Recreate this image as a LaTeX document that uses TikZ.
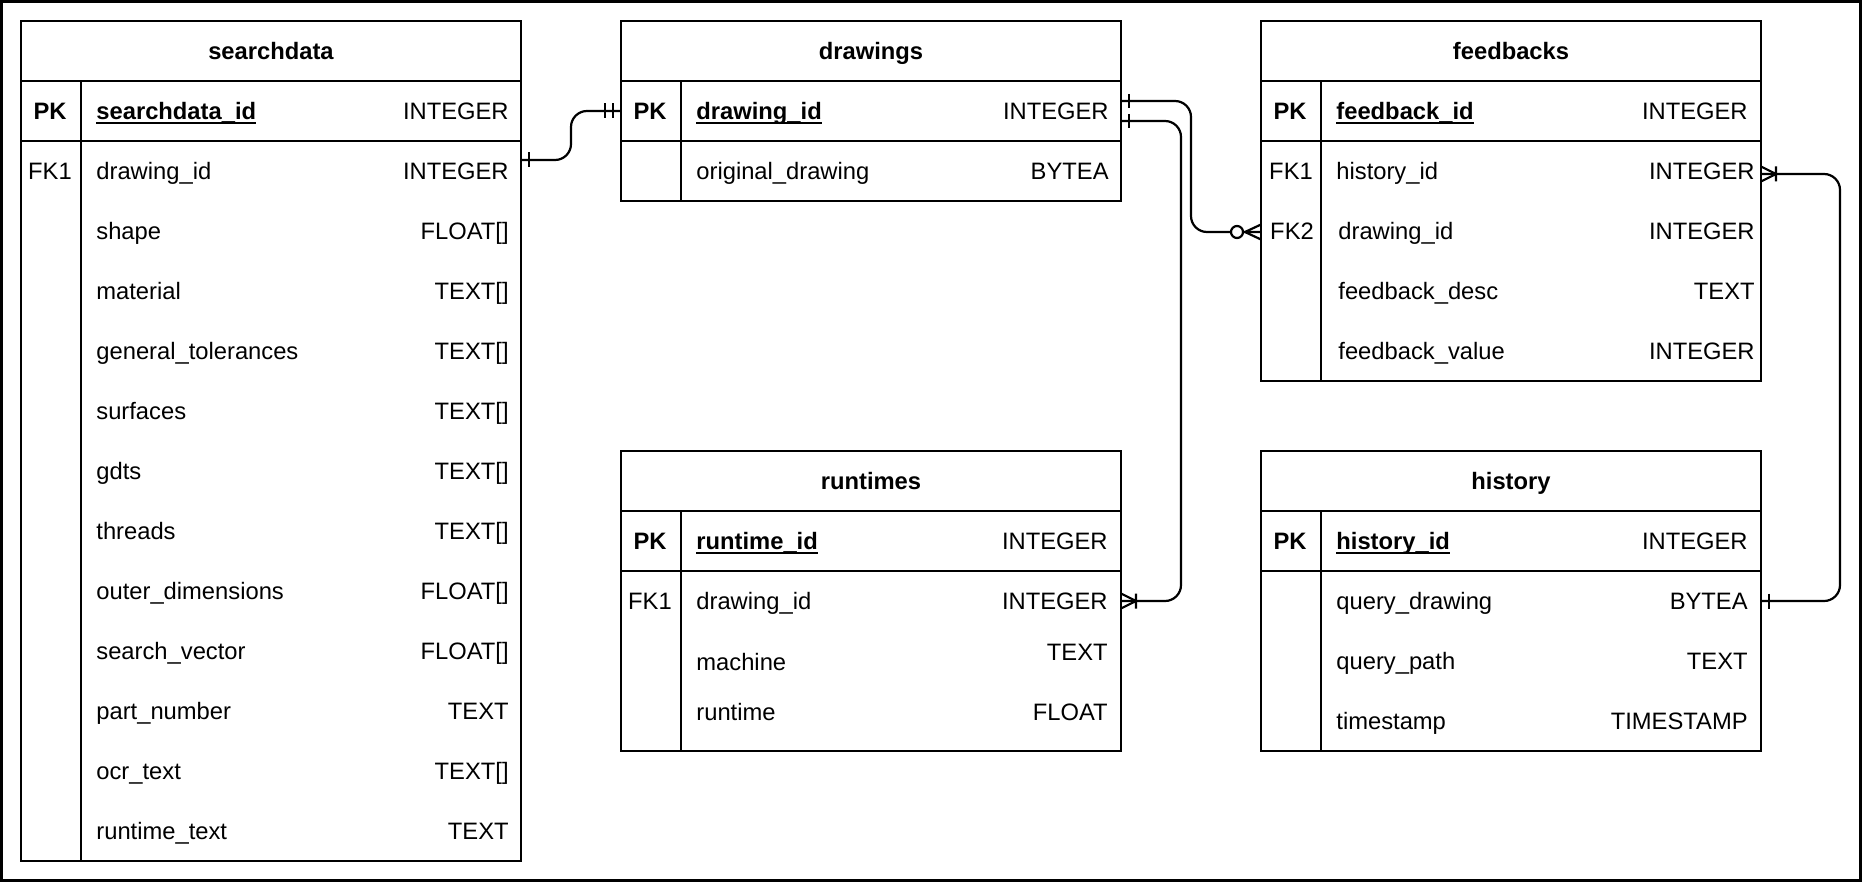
\documentclass[tikz,border=0pt]{standalone}
\usepackage{fontspec}
\setmainfont{Liberation Sans}
\newcommand\erfont{\fontsize{11.875}{14}\selectfont}
\newcommand\keyul[1]{\setbox0\hbox{#1}\rlap{\rule[-2.1pt]{\wd0}{0.85pt}}\box0}
\tikzset{
  tbl/.style={draw,line width=1.2pt,inner sep=0pt,outer sep=0pt,anchor=north west,minimum width=250pt},
  sep/.style={line width=1.2pt},
  title/.style={font=\erfont\bfseries,anchor=base,inner sep=0pt},
  pkc/.style={font=\erfont\bfseries,anchor=base,inner sep=0pt},
  keyc/.style={font=\erfont,anchor=base,inner sep=0pt},
  pkf/.style={font=\erfont\bfseries,anchor=base west,inner sep=0pt},
  fld/.style={font=\erfont,anchor=base west,inner sep=0pt},
  typ/.style={font=\erfont,anchor=base east,inner sep=0pt},
  rel/.style={line width=1.1pt,rounded corners=8pt},
  tick/.style={line width=1.1pt}
}
\begin{document}
\begin{tikzpicture}[x=0.5pt,y=-0.5pt]
\useasboundingbox (0,0) rectangle (1862,882);
\draw[line width=1.5pt] (1.5,1.5) rectangle (1860.5,880.5);
\def \bh{30pt};
\node[tbl,minimum height=420pt] (searchdata) at (21,21) {};
\node[tbl,minimum height=90pt] (drawings) at (621,21) {};
\node[tbl,minimum height=180pt] (feedbacks) at (1261,21) {};
\node[tbl,minimum height=150pt] (runtimes) at (621,451) {};
\node[tbl,minimum height=150pt] (history) at (1261,451) {};
\draw[sep] (searchdata.north west) ++(0,60) -- ++(500,0) ++(-500,60) -- ++(500,0);
\draw[sep] ([xshift=\bh,yshift=-\bh]searchdata.north west) -- ([xshift=\bh]searchdata.south west);
\draw[sep] (drawings.north west) ++(0,60) -- ++(500,0) ++(-500,60) -- ++(500,0);
\draw[sep] ([xshift=\bh,yshift=-\bh]drawings.north west) -- ([xshift=\bh]drawings.south west);
\draw[sep] (feedbacks.north west) ++(0,60) -- ++(500,0) ++(-500,60) -- ++(500,0);
\draw[sep] ([xshift=\bh,yshift=-\bh]feedbacks.north west) -- ([xshift=\bh]feedbacks.south west);
\draw[sep] (runtimes.north west) ++(0,60) -- ++(500,0) ++(-500,60) -- ++(500,0);
\draw[sep] ([xshift=\bh,yshift=-\bh]runtimes.north west) -- ([xshift=\bh]runtimes.south west);
\draw[sep] (history.north west) ++(0,60) -- ++(500,0) ++(-500,60) -- ++(500,0);
\draw[sep] ([xshift=\bh,yshift=-\bh]history.north west) -- ([xshift=\bh]history.south west);
\node[title] (sd-title) at (271,59.5) {searchdata};
\node[pkc] (sd-pk) at (50,119.5) {PK};
\node[pkf] (sd-id) at (96,119.5) {\keyul{searchdata\_id}};
\node[typ] (sd-id-t) at (509,119.5) {INTEGER};
\node[keyc] (sd-fk1) at (50,179.5) {FK1};
\node[fld] (sd-drw) at (96,179.5) {drawing\_id};
\node[typ] (sd-drw-t) at (509,179.5) {INTEGER};
\node[fld] (sd-shape) at (96,239.5) {shape};
\node[typ] (sd-shape-t) at (509,239.5) {FLOAT[]};
\node[fld] (sd-mat) at (96,299.5) {material};
\node[typ] (sd-mat-t) at (509,299.5) {TEXT[]};
\node[fld] (sd-tol) at (96,359.5) {general\_tolerances};
\node[typ] (sd-tol-t) at (509,359.5) {TEXT[]};
\node[fld] (sd-surf) at (96,419.5) {surfaces};
\node[typ] (sd-surf-t) at (509,419.5) {TEXT[]};
\node[fld] (sd-gdts) at (96,479.5) {gdts};
\node[typ] (sd-gdts-t) at (509,479.5) {TEXT[]};
\node[fld] (sd-thr) at (96,539.5) {threads};
\node[typ] (sd-thr-t) at (509,539.5) {TEXT[]};
\node[fld] (sd-outer) at (96,599.5) {outer\_dimensions};
\node[typ] (sd-outer-t) at (509,599.5) {FLOAT[]};
\node[fld] (sd-vec) at (96,659.5) {search\_vector};
\node[typ] (sd-vec-t) at (509,659.5) {FLOAT[]};
\node[fld] (sd-part) at (96,719.5) {part\_number};
\node[typ] (sd-part-t) at (509,719.5) {TEXT};
\node[fld] (sd-ocr) at (96,779.5) {ocr\_text};
\node[typ] (sd-ocr-t) at (509,779.5) {TEXT[]};
\node[fld] (sd-rt) at (96,839.5) {runtime\_text};
\node[typ] (sd-rt-t) at (509,839.5) {TEXT};
\node[title] (dr-title) at (871,59.5) {drawings};
\node[pkc] (dr-pk) at (650,119.5) {PK};
\node[pkf] (dr-id) at (696,119.5) {\keyul{drawing\_id}};
\node[typ] (dr-id-t) at (1109,119.5) {INTEGER};
\node[fld] (dr-orig) at (696,179.5) {original\_drawing};
\node[typ] (dr-orig-t) at (1109,179.5) {BYTEA};
\node[title] (fb-title) at (1511,59.5) {feedbacks};
\node[pkc] (fb-pk) at (1290,119.5) {PK};
\node[pkf] (fb-id) at (1336,119.5) {\keyul{feedback\_id}};
\node[typ] (fb-id-t) at (1748,119.5) {INTEGER};
\node[keyc] (fb-fk1) at (1291,179.5) {FK1};
\node[fld] (fb-hist) at (1336,179.5) {history\_id};
\node[typ] (fb-hist-t) at (1755,179.5) {INTEGER};
\node[keyc] (fb-fk2) at (1292,239.5) {FK2};
\node[fld] (fb-drw) at (1338,239.5) {drawing\_id};
\node[typ] (fb-drw-t) at (1755,239.5) {INTEGER};
\node[fld] (fb-desc) at (1338,299.5) {feedback\_desc};
\node[typ] (fb-desc-t) at (1755,299.5) {TEXT};
\node[fld] (fb-val) at (1338,359.5) {feedback\_value};
\node[typ] (fb-val-t) at (1755,359.5) {INTEGER};
\node[title] (rt-title) at (871,489.5) {runtimes};
\node[pkc] (rt-pk) at (650,549.5) {PK};
\node[pkf] (rt-id) at (696,549.5) {\keyul{runtime\_id}};
\node[typ] (rt-id-t) at (1108,549.5) {INTEGER};
\node[keyc] (rt-fk1) at (650,609.5) {FK1};
\node[fld] (rt-drw) at (696,609.5) {drawing\_id};
\node[typ] (rt-drw-t) at (1108,609.5) {INTEGER};
\node[fld] (rt-mach) at (696,670.2) {machine};
\node[typ] (rt-mach-t) at (1108,660.2) {TEXT};
\node[fld] (rt-rt) at (696,720.2) {runtime};
\node[typ] (rt-rt-t) at (1108,720.2) {FLOAT};
\node[title] (hi-title) at (1511,489.5) {history};
\node[pkc] (hi-pk) at (1290,549.5) {PK};
\node[pkf] (hi-id) at (1336,549.5) {\keyul{history\_id}};
\node[typ] (hi-id-t) at (1748,549.5) {INTEGER};
\node[fld] (hi-qd) at (1336,609.5) {query\_drawing};
\node[typ] (hi-qd-t) at (1748,609.5) {BYTEA};
\node[fld] (hi-qp) at (1336,669.5) {query\_path};
\node[typ] (hi-qp-t) at (1748,669.5) {TEXT};
\node[fld] (hi-ts) at (1336,729.5) {timestamp};
\node[typ] (hi-ts-t) at (1748,729.5) {TIMESTAMP};
\draw[rel] (searchdata.east |- 0,160) -- ++(50,0) |- (drawings.west |- 0,111);
\draw[tick] (searchdata.east |- 0,160) ++(8,-7.5) -- ++(0,15);
\draw[tick] (drawings.west |- 0,111) ++(-8,-7.5) -- ++(0,15) ++(-8,-15) -- ++(0,15);
\draw[rel] (drawings.east |- 0,101) -- ++(70,0) |- (feedbacks.west |- 0,232);
\draw[tick] (drawings.east |- 0,101) ++(8,-7) -- ++(0,14);
\draw[tick] (feedbacks.west |- 0,232) ++(-16,0) -- ++(16,-7.5) ++(-16,7.5) -- ++(16,7.5);
\draw[tick,fill=white] (feedbacks.west |- 0,232) ++(-24,0) circle[radius=3pt];
\draw[rel] (drawings.east |- 0,121) -- ++(60,0) |- (runtimes.east |- 0,601);
\draw[tick] (drawings.east |- 0,121) ++(8,-7) -- ++(0,14);
\draw[tick] (runtimes.east |- 0,601) ++(0,-7.5) -- ++(15,7.5) -- ++(-15,7.5) ++(15,-15) -- ++(0,15);
\draw[rel] (feedbacks.east |- 0,174) -- ++(79,0) |- (history.east |- 0,601);
\draw[tick] (feedbacks.east |- 0,174) ++(0,-7.5) -- ++(15,7.5) -- ++(-15,7.5) ++(15,-15) -- ++(0,15);
\draw[tick] (history.east |- 0,601) ++(8,-7.5) -- ++(0,15);
\end{tikzpicture}
\end{document}
